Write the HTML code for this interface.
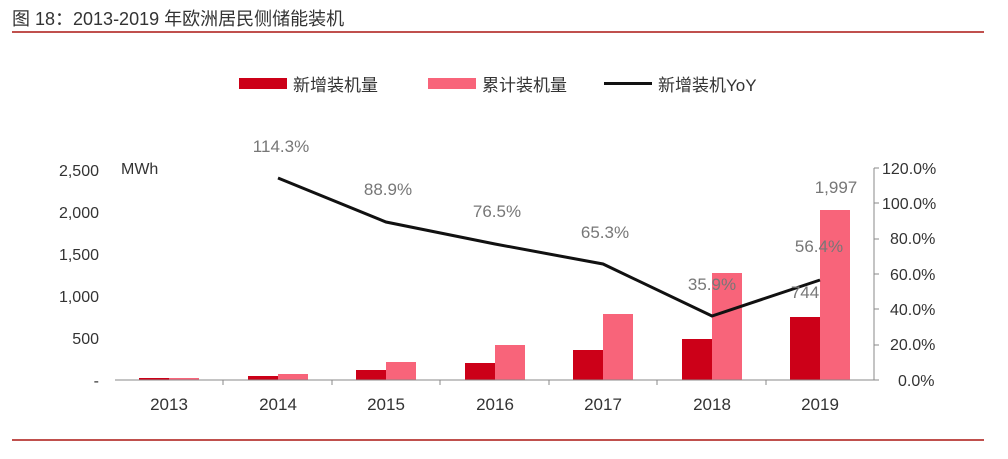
<!DOCTYPE html><html><head><meta charset="utf-8"><style>body{margin:0;background:#fff}svg text{font-family:"Liberation Sans","Noto Sans CJK SC",sans-serif}</style></head><body>
<svg width="1008" height="454" viewBox="0 0 1008 454" xmlns="http://www.w3.org/2000/svg">
<text x="12" y="25" font-size="18" fill="#333">图 18：2013-2019 年欧洲居民侧储能装机</text>
<line x1="12" y1="32" x2="984" y2="32" stroke="#c0504d" stroke-width="2"/>
<line x1="12" y1="440" x2="984" y2="440" stroke="#c0504d" stroke-width="2"/>
<rect x="239" y="78" width="48" height="11" fill="#cc0018"/><text x="293" y="91" font-size="17" fill="#333">新增装机量</text>
<rect x="428" y="78" width="48" height="11" fill="#f8647a"/><text x="482" y="91" font-size="17" fill="#333">累计装机量</text>
<rect x="604" y="82" width="48" height="3" fill="#111"/><text x="658" y="91" font-size="17" fill="#333">新增装机YoY</text>
<g font-size="16" fill="#333" text-anchor="end">
<text x="99" y="176">2,500</text><text x="99" y="218">2,000</text><text x="99" y="260">1,500</text><text x="99" y="302">1,000</text><text x="99" y="344">500</text><text x="99" y="386">-</text></g>
<text x="121" y="174" font-size="16" fill="#333">MWh</text>
<g font-size="16" fill="#333">
<text x="882" y="174">120.0%</text><text x="882" y="209">100.0%</text><text x="890" y="244">80.0%</text><text x="890" y="280">60.0%</text><text x="890" y="315">40.0%</text><text x="890" y="350">20.0%</text><text x="898" y="386">0.0%</text></g>
<line x1="874" y1="168" x2="874" y2="380" stroke="#888"/>
<g stroke="#888"><line x1="874" y1="168" x2="879" y2="168"/><line x1="874" y1="203" x2="879" y2="203"/><line x1="874" y1="239" x2="879" y2="239"/><line x1="874" y1="274" x2="879" y2="274"/><line x1="874" y1="309" x2="879" y2="309"/><line x1="874" y1="345" x2="879" y2="345"/><line x1="874" y1="380" x2="879" y2="380"/></g>
<g fill="#cc0018">
<rect x="139" y="378" width="30" height="2"/><rect x="248" y="376" width="30" height="4"/><rect x="356" y="370" width="30" height="10"/><rect x="465" y="363" width="30" height="17"/><rect x="573" y="350" width="30" height="30"/><rect x="682" y="339" width="30" height="41"/><rect x="790" y="317" width="30" height="63"/></g>
<g fill="#f8647a">
<rect x="169" y="378" width="30" height="2"/><rect x="278" y="374" width="30" height="6"/><rect x="386" y="362" width="30" height="18"/><rect x="495" y="345" width="30" height="35"/><rect x="603" y="314" width="30" height="66"/><rect x="712" y="273" width="30" height="107"/><rect x="820" y="210" width="30" height="170"/></g>
<line x1="115" y1="380" x2="874" y2="380" stroke="#888"/>
<g stroke="#888"><line x1="223" y1="380" x2="223" y2="385"/><line x1="332" y1="380" x2="332" y2="385"/><line x1="440" y1="380" x2="440" y2="385"/><line x1="549" y1="380" x2="549" y2="385"/><line x1="657" y1="380" x2="657" y2="385"/><line x1="766" y1="380" x2="766" y2="385"/></g>
<g font-size="17" fill="#333" text-anchor="middle">
<text x="169" y="410">2013</text><text x="278" y="410">2014</text><text x="386" y="410">2015</text><text x="495" y="410">2016</text><text x="603" y="410">2017</text><text x="712" y="410">2018</text><text x="820" y="410">2019</text></g>
<polyline points="278,178 386,222 495,244 603,264 712,316 820,280" fill="none" stroke="#111" stroke-width="3"/>
<g font-size="17" fill="#777" text-anchor="middle">
<text x="281" y="152">114.3%</text><text x="388" y="195">88.9%</text><text x="497" y="217">76.5%</text><text x="605" y="238">65.3%</text><text x="712" y="290">35.9%</text><text x="819" y="252">56.4%</text><text x="805" y="298">744</text><text x="836" y="193">1,997</text></g>
</svg></body></html>
